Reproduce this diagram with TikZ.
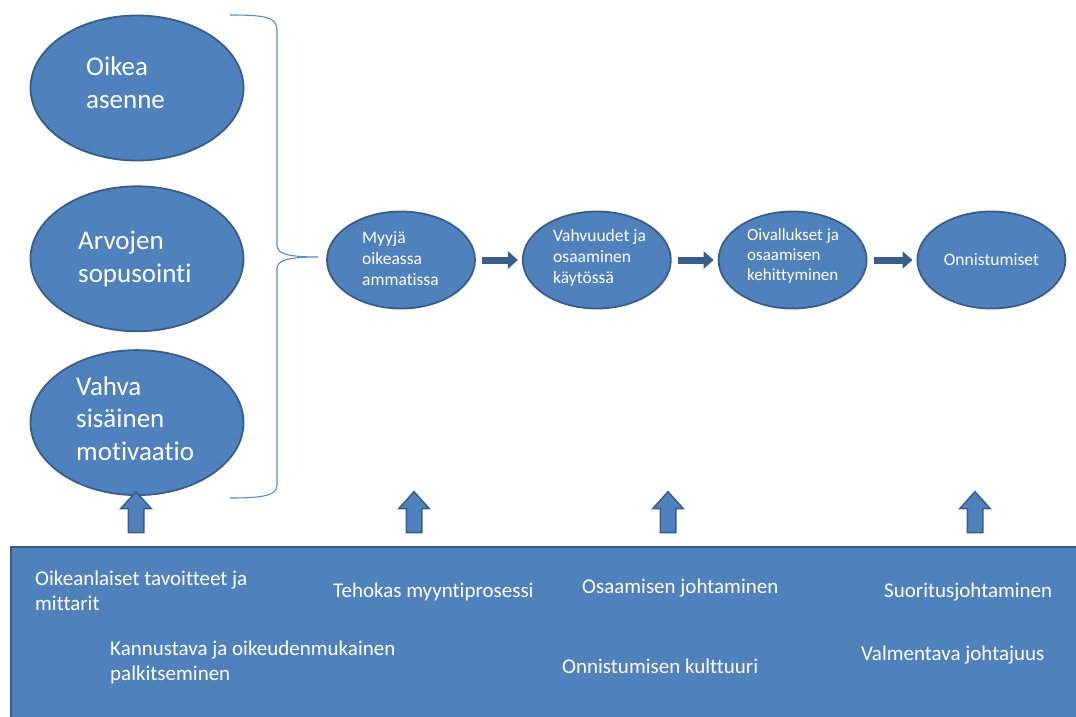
\documentclass[tikz,border=0pt]{standalone}
\usepackage{fontspec}
\setmainfont{Carlito}[Ligatures={NoCommon}]
\usetikzlibrary{positioning,shapes.geometric,shapes.arrows,arrows.meta}
\definecolor{boxblue}{HTML}{4F81BD}
\definecolor{edgeblue}{HTML}{385D8A}
\definecolor{arrowblue}{HTML}{3A5E8C}
\definecolor{bracecol}{HTML}{5B8AC6}
\tikzset{
	bigoval/.style={ellipse, draw=edgeblue, line width=1.8pt, fill=boxblue,
		minimum width=213pt, minimum height=145pt, inner sep=0pt},
	smalloval/.style={ellipse, draw=edgeblue, line width=1.8pt, fill=boxblue,
		minimum width=148pt, minimum height=97pt, inner sep=0pt},
	ovaltext/.style={text=white, align=left, inner sep=0pt, anchor=base west,
		font=\fontsize{27}{32.5}\selectfont},
	midtext/.style={text=white, align=left, inner sep=0pt, anchor=base west,
		font=\fontsize{17.5}{21}\selectfont},
	boxtext/.style={text=white, align=left, inner sep=0pt, anchor=base west,
		font=\fontsize{21}{25}\selectfont},
	flowarrow/.style={arrowblue, line width=7pt, -{Triangle[length=10pt,width=17pt]},
		shorten <=6pt, shorten >=4pt},
	uparrow/.style={single arrow, shape border rotate=90, draw=edgeblue, line width=1.5pt,
		fill=boxblue, minimum height=41pt, inner sep=7pt,
		single arrow head extend=7.5pt, single arrow tip angle=84}
}

\begin{document}
\begin{tikzpicture}[x=1pt,y=-1pt]
	\useasboundingbox (0,0) rectangle (1076,716);

	% foundation box
	\draw[edgeblue, line width=1.5pt, fill=boxblue] (11,547) rectangle (1095,735);

	% left ovals
	\node[bigoval] (asenne) at (137,88) {};
	\node[bigoval, below=24pt of asenne] (arvot) {};
	\node[bigoval, below=17pt of arvot] (motiv) {};
	\node[ovaltext] (asennetxt) at (86,108) {Oikea\\asenne};
	\node[ovaltext] (arvottxt) at (78,282) {Arvojen\\sopusointi};
	\node[ovaltext] (motivtxt) at (76,460) {Vahva\\sisäinen\\motivaatio};

	% brace
	\coordinate (bracetip) at (318,257);
	\draw[bracecol, line width=1.1pt] (230,15) .. controls (265,15) and (277,17) .. (277,30)
		-- (277,245) .. controls (277,253) and (285,257) .. (bracetip)
		.. controls (285,257) and (277,261) .. (277,269)
		-- (277,485) .. controls (277,495) and (265,498) .. (230,498);

	% chain
	\node[smalloval] (myyja) at (401,260) {};
	\node[smalloval, right=46pt of myyja] (vahvuus) {};
	\node[smalloval, right=46pt of vahvuus] (oival) {};
	\node[smalloval, right=49pt of oival, text=white,
		font=\fontsize{17.5}{21}\selectfont] (onnist) {Onnistumiset};
	\node[midtext] (myyjatxt) at (362,285) {Myyjä\\oikeassa\\ammatissa};
	\node[midtext] (vahvuustxt) at (553,283) {Vahvuudet ja\\osaaminen\\käytössä};
	\node[midtext, font=\fontsize{17}{20}\selectfont] (oivaltxt) at (747,280)
		{Oivallukset ja\\osaamisen\\kehittyminen};

	\draw[flowarrow] (myyja.east) -- (vahvuus.west);
	\draw[flowarrow] (vahvuus.east) -- (oival.west);
	\draw[flowarrow] (oival.east) -- (onnist.west);

	% up arrows
	\foreach \i/\x in {1/136,2/414,3/668,4/975}
		\node[uparrow] (up\i) at (\x,516.5) {};

	% foundation texts
	\node[boxtext] (tavoite) at (35,610) {Oikeanlaiset tavoitteet ja\\mittarit};
	\node[boxtext] (prosessi) at (333,597) {Tehokas myyntiprosessi};
	\node[boxtext] (palkitse) at (110,680) {Kannustava ja oikeudenmukainen\\palkitseminen};
	\node[boxtext] (osaaminen) at (582,593) {Osaamisen johtaminen};
	\node[boxtext] (kulttuuri) at (562,673) {Onnistumisen kulttuuri};
	\node[boxtext] (suoritus) at (884,597) {Suoritusjohtaminen};
	\node[boxtext] (valmennus) at (861,660) {Valmentava johtajuus};
\end{tikzpicture}
\end{document}
